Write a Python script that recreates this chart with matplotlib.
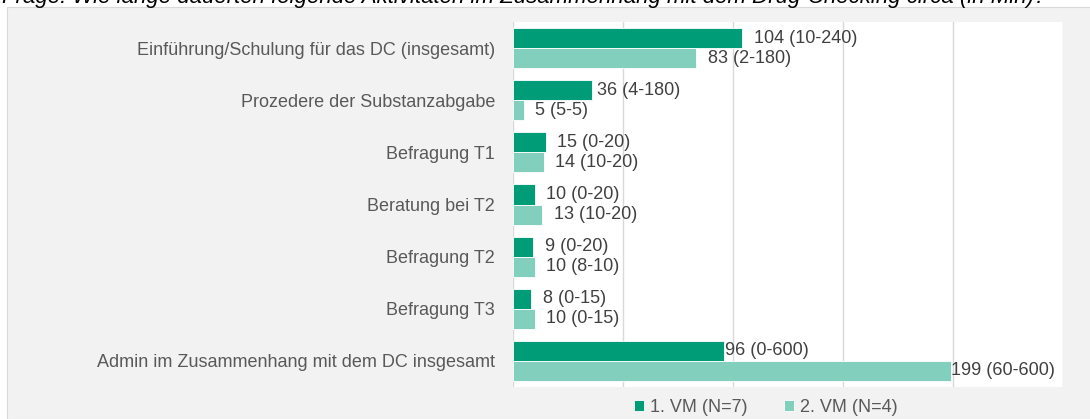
import matplotlib.pyplot as plt
import matplotlib.patches as mpatches
import numpy as np

plt.rcParams['font.family'] = ['Liberation Sans', 'DejaVu Sans']

# data
categories = [
    "Einführung/Schulung für das DC (insgesamt)",
    "Prozedere der Substanzabgabe",
    "Befragung T1",
    "Beratung bei T2",
    "Befragung T2",
    "Befragung T3",
    "Admin im Zusammenhang mit dem DC insgesamt",
]
vm1 = [104, 36, 15, 10, 9, 8, 96]
vm2 = [83, 5, 14, 13, 10, 10, 199]
vm1_range = ["10-240", "4-180", "0-20", "0-20", "0-20", "0-15", "0-600"]
vm2_range = ["2-180", "5-5", "10-20", "10-20", "8-10", "0-15", "60-600"]
series_names = ["1. VM (N=7)", "2. VM (N=4)"]

# label gap after bar end (pixels), as placed in the original
gap1 = [12, 5, 11, 11, 12, 12, 1]
gap2 = [12, 11, 11, 12, 11, 11, 0]

dark = "#009b77"
light = "#82cfbd"
txt = "#404040"

fig = plt.figure(figsize=(10.9, 4.19), dpi=100)
fig.patch.set_facecolor("white")

# gray chart panel (behind the axes)
panel = mpatches.Rectangle((7 / 1090, 0), 1, (419 - 7) / 419,
                           transform=fig.transFigure, facecolor="#f2f2f2",
                           edgecolor="#d9d9d9", lw=0.8, zorder=-10)
fig.patches.append(panel)

# question line, cut by the top edge as in the screenshot
fig.text(2 / 1090, 1 - 3.5 / 419, "Frage: Wie lange dauerten folgende Aktivitäten im Zusammenhang "
         "mit dem Drug-Checking circa (in Min)?", fontsize=16, style="italic",
         color="black", va="baseline", ha="left")

ax = fig.add_axes([513 / 1090, 32 / 419, 550 / 1090, 365 / 419])
ax.set_facecolor("white")

y = np.arange(len(categories))
h = 0.385
ax.barh(y - h / 2, vm1, height=h, color=dark, edgecolor="white", lw=0.6,
        label=series_names[0], zorder=3)
ax.barh(y + h / 2, vm2, height=h, color=light, edgecolor="white", lw=0.6,
        label=series_names[1], zorder=3)

for i in range(len(categories)):
    ax.annotate(f"{vm1[i]} ({vm1_range[i]})", (vm1[i], y[i] - h / 2),
                xytext=(gap1[i], 0), textcoords="offset pixels",
                va="center", ha="left", fontsize=13, color=txt, zorder=4)
    ax.annotate(f"{vm2[i]} ({vm2_range[i]})", (vm2[i], y[i] + h / 2),
                xytext=(gap2[i], 0), textcoords="offset pixels",
                va="center", ha="left", fontsize=13, color=txt, zorder=4)

ax.set_xlim(0, 250)
ax.set_ylim(len(categories) - 0.5, -0.5)
ax.set_xticks(np.arange(0, 251, 50))
ax.set_xticklabels([])
ax.tick_params(axis="x", length=0)
ax.grid(axis="x", color="#d9d9d9", lw=1, zorder=0)
ax.set_yticks(y)
ax.set_yticklabels(categories, fontsize=13, color="#595959")
ax.tick_params(axis="y", length=0, pad=13)
for s in ax.spines.values():
    s.set_visible(False)

leg = fig.legend(loc="center", bbox_to_anchor=(766 / 1090, 12 / 419), ncol=2,
                 frameon=False, fontsize=13, handlelength=0.55, handleheight=0.55,
                 handletextpad=0.35, columnspacing=2.0)
for t in leg.get_texts():
    t.set_color("#595959")

fig.savefig("out.png", dpi=100, facecolor=fig.get_facecolor())
